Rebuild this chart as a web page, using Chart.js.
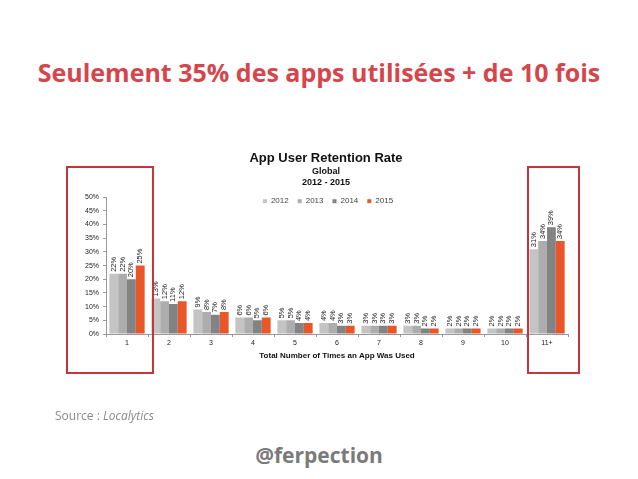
<!DOCTYPE html>
<html>
<head>
<meta charset="utf-8">
<script src="https://cdn.jsdelivr.net/npm/chart.js@4.4.1/dist/chart.umd.min.js"></script>
<style>
    body { margin: 0; background: #fff; width: 638px; height: 479px; position: relative; overflow: hidden; font-family: "Open Sans", sans-serif; }
    #headline { position: absolute; left: 0; width: 638px; top: 55px; text-align: center; color: #d5464c; font-weight: bold; font-size: 25px; }
    #source { position: absolute; left: 55px; top: 407px; color: #8a8a8a; font-size: 12px; }
    #handle { position: absolute; left: 0; width: 638px; top: 441px; text-align: center; color: #7a7a7a; font-weight: bold; font-size: 21px; }
    #chartBox { position: absolute; left: 47px; top: 140px; }
    .frame { position: absolute; border: 2px solid #c4363c; }
</style>
</head>
<body>
<div id="headline">Seulement 35% des apps utilisées + de 10 fois</div>
<div id="chartBox"><canvas id="chart-area" width="560" height="240"></canvas></div>
<div class="frame" style="left:66px;top:166px;width:84px;height:204px;"></div>
<div class="frame" style="left:527px;top:166px;width:49px;height:204px;"></div>
<div id="source">Source : <i>Localytics</i></div>
<div id="handle">@ferpection</div>
<script>
    // data (percent of users)
    var categories = ['1', '2', '3', '4', '5', '6', '7', '8', '9', '10', '11+'];
    var years = ['2012', '2013', '2014', '2015'];
    var values2012 = [22, 13, 9, 6, 5, 4, 3, 3, 2, 2, 31];
    var values2013 = [22, 12, 8, 6, 5, 4, 3, 3, 2, 2, 34];
    var values2014 = [20, 11, 7, 5, 4, 3, 3, 2, 2, 2, 39];
    var values2015 = [25, 12, 8, 6, 4, 3, 3, 2, 2, 2, 34];
    var yTicks = [0, 5, 10, 15, 20, 25, 30, 35, 40, 45, 50];

    var colors = ['#c4c4c4', '#adadad', '#838383', '#ea552a'];
    var series = [values2012, values2013, values2014, values2015];
    var fontName = '"Liberation Sans", Arial, sans-serif';

    // rotated value labels over each bar
    var valueLabels = {
        id: 'valueLabels',
        afterDatasetsDraw: function (chart) {
            var ctx = chart.ctx;
            ctx.save();
            ctx.font = '7.5px ' + fontName;
            ctx.fillStyle = '#222';
            ctx.textAlign = 'left';
            ctx.textBaseline = 'middle';
            chart.data.datasets.forEach(function (ds, i) {
                var meta = chart.getDatasetMeta(i);
                meta.data.forEach(function (bar, j) {
                    ctx.save();
                    ctx.translate(bar.x, bar.y - 2);
                    ctx.rotate(-Math.PI / 2);
                    ctx.fillText(ds.data[j] + '%', 0, 0);
                    ctx.restore();
                });
            });
            ctx.restore();
        }
    };

    // horizontal legend sitting inside the top of the plot
    var innerLegend = {
        id: 'innerLegend',
        afterDraw: function (chart) {
            var ctx = chart.ctx;
            ctx.save();
            ctx.font = '8px ' + fontName;
            ctx.textBaseline = 'middle';
            ctx.textAlign = 'left';
            var items = chart.data.datasets.map(function (ds) {
                return {text: ds.label, color: ds.backgroundColor, w: 4 + 4 + ctx.measureText(ds.label).width};
            });
            var gap = 9;
            var total = items.reduce(function (a, it) { return a + it.w; }, 0) + gap * (items.length - 1);
            var x = chart.width / 2 - total / 2 + 1;
            var y = chart.chartArea.top + 4;
            items.forEach(function (it) {
                ctx.fillStyle = it.color;
                ctx.fillRect(x, y - 2, 4, 4);
                ctx.fillStyle = '#444';
                ctx.fillText(it.text, x + 8, y);
                x += it.w + gap;
            });
            ctx.restore();
        }
    };

    var config = {
        type: 'bar',
        data: {
            labels: categories,
            datasets: years.map(function (y, i) {
                return {label: y, data: series[i], backgroundColor: colors[i], borderWidth: 0,
                    barPercentage: 1, categoryPercentage: 0.84};
            })
        },
        options: {
            responsive: false,
            animation: false,
            devicePixelRatio: 1,
            layout: {padding: {left: 37, right: 39, top: 0, bottom: 15}},
            plugins: {
                title: {display: true, text: 'App User Retention Rate', color: '#111',
                    font: {family: fontName, size: 13, weight: 'bold'}, padding: {top: 11, bottom: 0}},
                subtitle: {display: true, text: ['Global', '2012 - 2015'], color: '#111',
                    font: {family: fontName, size: 9, weight: 'bold'}, padding: {bottom: 9}},
                legend: {display: false},
                tooltip: {enabled: false}
            },
            scales: {
                x: {
                    grid: {display: true, drawOnChartArea: false, offset: true, tickLength: 3, color: '#999'},
                    border: {color: '#999'},
                    ticks: {color: '#222', font: {family: fontName, size: 7}, padding: 2},
                    title: {display: true, text: 'Total Number of Times an App Was Used', color: '#111',
                        font: {family: fontName, size: 8, weight: 'bold'}, padding: {top: 2}}
                },
                y: {
                    min: 0, max: 50,
                    afterFit: function (s) { s.width = 22; },
                    afterBuildTicks: function (s) { s.ticks = yTicks.map(function (v) { return {value: v}; }); },
                    grid: {display: true, drawOnChartArea: false, tickLength: 3, color: '#999'},
                    border: {color: '#999'},
                    ticks: {color: '#222', font: {family: fontName, size: 7}, padding: 4,
                        callback: function (v) { return v + '%'; }}
                }
            }
        },
        plugins: [valueLabels, innerLegend]
    };

    var ctx = document.getElementById('chart-area').getContext('2d');
    var myChart = new Chart(ctx, config);
</script>
</body>
</html>
